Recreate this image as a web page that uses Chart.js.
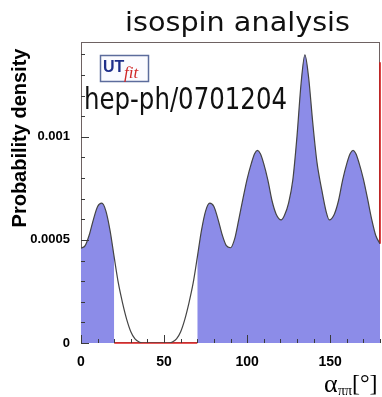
<!DOCTYPE html>
<html>
<head>
<meta charset="utf-8">
<script src="https://cdn.jsdelivr.net/npm/chart.js@4/dist/chart.umd.min.js"></script>
<style>
  html, body { margin: 0; padding: 0; background: #fff; }
  #wrap { width: 382px; height: 397px; }
</style>
</head>
<body>
<div id="wrap"><canvas id="chart" width="382" height="397"></canvas></div>
<script>
// alpha_pipi (degrees) and probability density of the isospin fit
const alphaDeg = [0, 2.5, 5, 7.5, 10, 12.5, 15, 17.5, 20, 22.5, 25, 27.5, 30, 32.5, 35, 37.5, 40, 45, 50, 52.5,
  55, 57.5, 60, 62.5, 65, 67.5, 70, 72.5, 75, 77.5, 80, 82.5, 85, 87.5, 90, 92.5, 95, 97.5, 100, 102.5,
  104.5, 106.2, 108, 110, 112.5, 115, 117.5, 120.5, 122.5, 125, 127.5, 130, 132.5, 134.8, 137, 139.5,
  142, 145, 147.5, 149.5, 152.5, 155, 157.5, 160, 162, 163.8, 165.5, 167.5, 170, 172.5, 175, 177.5, 180];
const density = [0.000460, 0.000472, 0.000525, 0.000600, 0.000662, 0.000678, 0.000640, 0.000545, 0.000415,
  0.000290, 0.000195, 0.000115, 0.000055, 0.000020, 0.000005, 0, 0, 0, 0, 0,
  0.000005, 0.000020, 0.000055, 0.000115, 0.000195, 0.000290, 0.000415, 0.000545, 0.000640, 0.000678,
  0.000662, 0.000600, 0.000525, 0.000472, 0.000462, 0.000505, 0.000600, 0.000700, 0.000795, 0.000870,
  0.000918, 0.000934, 0.000918, 0.000870, 0.000790, 0.000690, 0.000625, 0.000597, 0.000620, 0.000680,
  0.000790, 0.001000, 0.001260, 0.001398, 0.001290, 0.001070, 0.000880, 0.000740, 0.000640, 0.000597,
  0.000625, 0.000690, 0.000790, 0.000870, 0.000918, 0.000934, 0.000918, 0.000870, 0.000795, 0.000700,
  0.000600, 0.000520, 0.000482];

// shaded (allowed) intervals
const shadeLow = [0, 20];
const shadeHigh = [70, 180];

// red histogram outline pieces
const redBottomX = [20, 70];
const redBottomY = [0, 0];
const redRightX = [180, 180];
const redRightY = [0.000482, 0.001362];

const xTickValues = [0, 50, 100, 150];
const yTickValues = [0, 0.0005, 0.001];

const points = alphaDeg.map((a, i) => ({ x: a, y: density[i] }));
const inRange = r => points.filter(p => p.x >= r[0] && p.x <= r[1]);
const pairs = (xs, ys) => xs.map((v, i) => ({ x: v, y: ys[i] }));

const FILL = 'rgb(140,140,232)';

// draw text squeezed/stretched to a given width
function fitText(ctx, text, x, y, w) {
  const m = ctx.measureText(text).width;
  ctx.save();
  ctx.translate(x, y);
  ctx.scale(w / m, 1);
  ctx.fillText(text, 0, 0);
  ctx.restore();
}

const decorations = {
  id: 'decorations',
  beforeDatasetsDraw(chart) {
    const { ctx, chartArea: a } = chart;
    ctx.save();
    ctx.strokeStyle = '#6e6262';
    ctx.lineWidth = 1;
    ctx.strokeRect(a.left + 0.5, a.top + 0.5, a.width - 1, a.height - 1);
    ctx.restore();
  },
  afterDatasetsDraw(chart) {
    const { ctx, chartArea: a, scales: { x, y } } = chart;
    ctx.save();
    ctx.strokeStyle = '#3a3a3a';
    ctx.lineWidth = 1;
    ctx.beginPath();
    // ticks inside the frame, ROOT style
    for (let v = 0; v <= 180; v += 10) {
      const px = Math.round(x.getPixelForValue(v)) + 0.5;
      const len = v % 50 === 0 ? 8 : 4;
      ctx.moveTo(px, a.bottom);
      ctx.lineTo(px, a.bottom - len);
    }
    for (let i = 0; i <= 14; i++) {
      const py = Math.round(y.getPixelForValue(i * 0.0001)) + 0.5;
      const len = i % 5 === 0 ? 8 : 4;
      ctx.moveTo(a.left, py);
      ctx.lineTo(a.left + len, py);
    }
    ctx.stroke();
    ctx.restore();
  },
  afterDraw(chart) {
    const { ctx } = chart;
    ctx.save();
    ctx.fillStyle = '#111';
    ctx.textBaseline = 'alphabetic';
    ctx.textAlign = 'left';

    ctx.font = '26px "DejaVu Sans"';
    fitText(ctx, 'isospin analysis', 125, 31, 225);

    ctx.font = '30px "DejaVu Sans"';
    fitText(ctx, 'hep-ph/0701204', 84, 109, 203);

    // UTfit logo
    ctx.fillStyle = '#fbfbff';
    ctx.fillRect(100, 55, 48, 27);
    ctx.strokeStyle = '#5c6c9c';
    ctx.lineWidth = 1.5;
    ctx.strokeRect(100.5, 55.5, 48, 26);
    ctx.fillStyle = '#1f2f8a';
    ctx.font = 'bold 16px "Liberation Sans"';
    ctx.fillText('UT', 103, 72);
    ctx.fillStyle = '#d02828';
    ctx.font = 'italic 17px "Liberation Serif"';
    ctx.fillText('fit', 124, 78);

    // y axis title
    ctx.fillStyle = '#000';
    ctx.save();
    ctx.translate(26, 138);
    ctx.rotate(-Math.PI / 2);
    ctx.textAlign = 'center';
    ctx.font = 'bold 20px "Liberation Sans"';
    ctx.fillText('Probability density', 0, 0);
    ctx.restore();

    // x axis title
    ctx.font = '26px "Liberation Serif"';
    ctx.fillText('\u03b1', 324, 392);
    ctx.font = '14px "Liberation Serif"';
    ctx.fillText('\u03c0\u03c0', 338, 395);
    ctx.font = '24px "Liberation Serif"';
    ctx.fillText('[\u00b0]', 352, 391);
    ctx.restore();
  }
};

new Chart(document.getElementById('chart'), {
  type: 'line',
  data: {
    datasets: [
      {
        data: points,
        borderColor: '#444',
        borderWidth: 1.2,
        pointRadius: 0,
        fill: false,
        cubicInterpolationMode: 'monotone',
        order: 0
      },
      {
        data: pairs(redBottomX, redBottomY),
        borderColor: '#e02020',
        borderWidth: 1.6,
        pointRadius: 0,
        clip: false,
        order: 1
      },
      {
        data: pairs(redRightX, redRightY),
        borderColor: '#d01818',
        borderWidth: 1.6,
        pointRadius: 0,
        clip: false,
        order: 1
      },
      {
        data: inRange(shadeLow),
        borderWidth: 0,
        backgroundColor: FILL,
        pointRadius: 0,
        fill: 'origin',
        cubicInterpolationMode: 'monotone',
        order: 2
      },
      {
        data: inRange(shadeHigh),
        borderWidth: 0,
        backgroundColor: FILL,
        pointRadius: 0,
        fill: 'origin',
        cubicInterpolationMode: 'monotone',
        order: 2
      }
    ]
  },
  options: {
    responsive: false,
    animation: false,
    layout: { padding: { top: 42, right: 2, left: 0, bottom: 0 } },
    plugins: {
      legend: { display: false },
      tooltip: { enabled: false }
    },
    scales: {
      x: {
        type: 'linear',
        min: 0,
        max: 180,
        grid: { display: false },
        border: { display: false },
        afterBuildTicks: s => { s.ticks = xTickValues.map(v => ({ value: v })); },
        afterFit: s => { s.height = 54; },
        ticks: {
          padding: 3,
          maxRotation: 0,
          color: '#000',
          font: { family: 'Liberation Sans', weight: 'bold', size: 14 }
        }
      },
      y: {
        type: 'linear',
        min: 0,
        max: 0.00146,
        grid: { display: false },
        border: { display: false },
        afterBuildTicks: s => { s.ticks = yTickValues.map(v => ({ value: v })); },
        afterFit: s => { s.width = 81; },
        ticks: {
          padding: 3,
          color: '#000',
          font: { family: 'Liberation Sans', weight: 'bold', size: 13 },
          callback: v => String(v)
        }
      }
    }
  },
  plugins: [decorations]
});
</script>
</body>
</html>
